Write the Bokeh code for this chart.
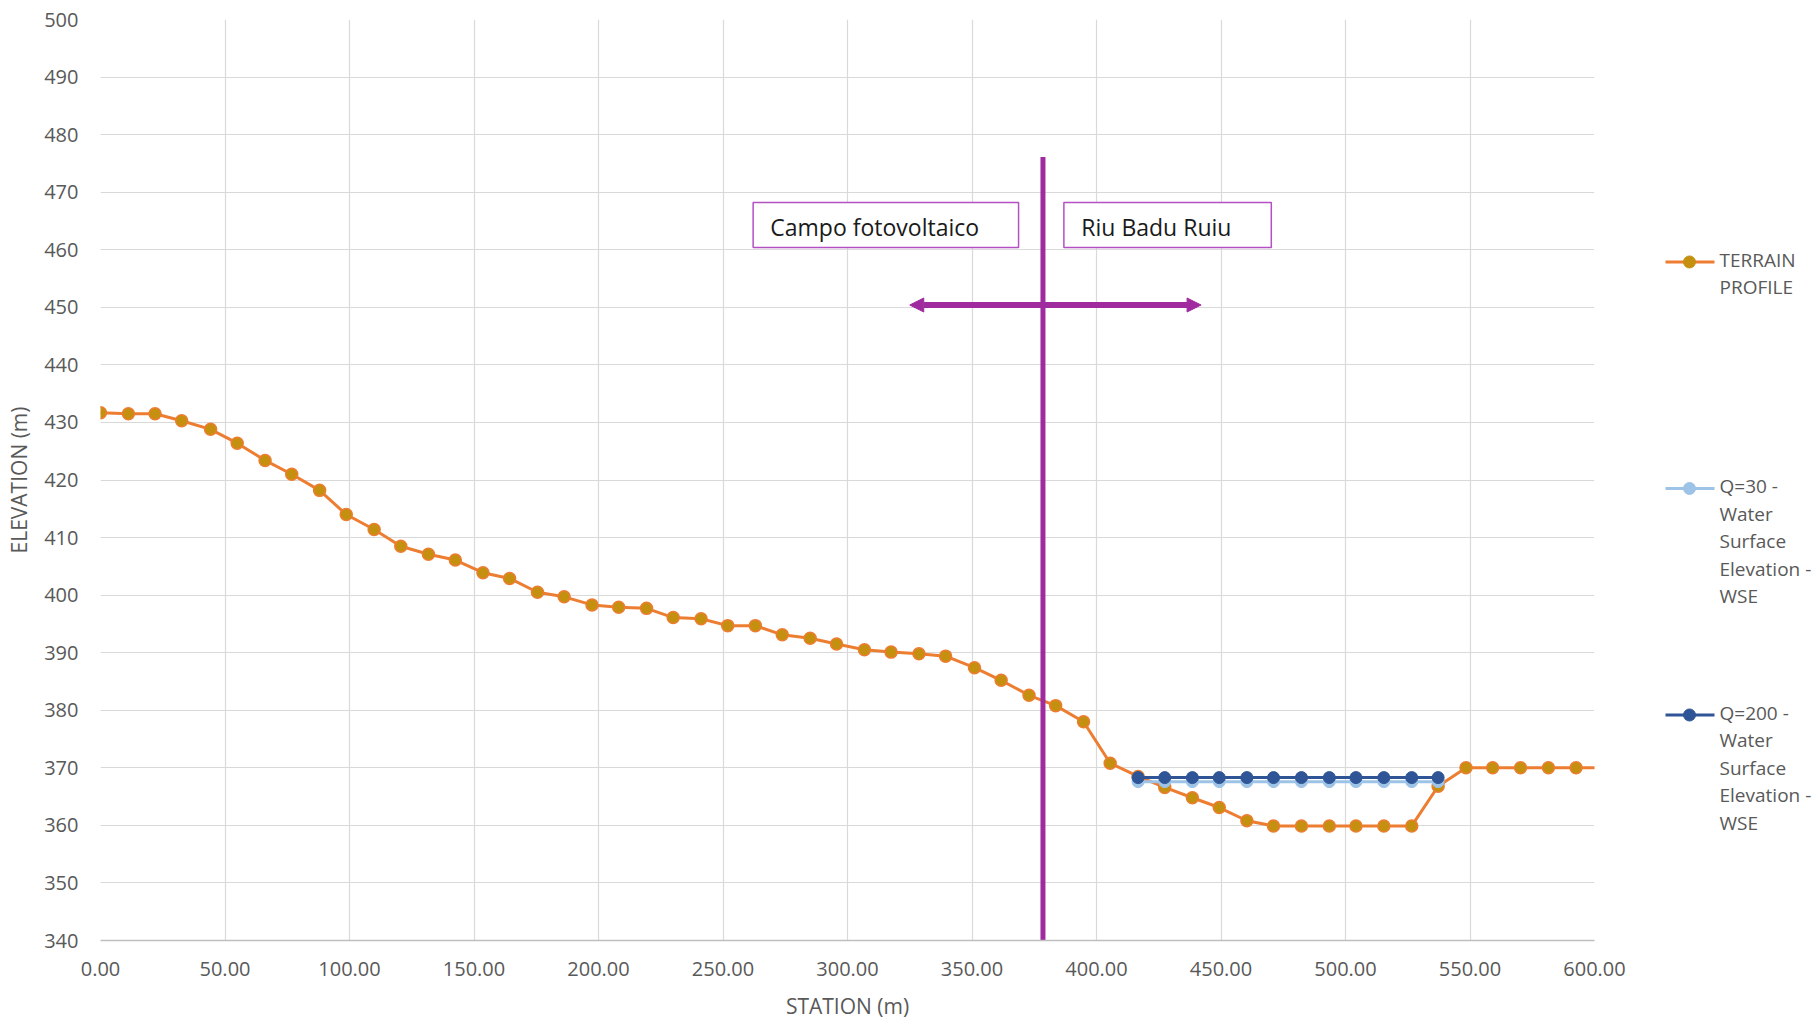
from bokeh.plotting import figure
from bokeh.models import Range1d, FixedTicker, NumeralTickFormatter, Arrow, NormalHead
from bokeh.layouts import row
from bokeh.embed import file_html
from bokeh.resources import INLINE
from bokeh.core.properties import value

# ---------------- data ----------------
station = [0.0, 11.2, 21.9, 32.6, 44.2, 54.9, 66.1, 76.8, 88.0, 98.7, 109.9, 120.6,
           131.7, 142.5, 153.6, 164.3, 175.5, 186.2, 197.4, 208.1, 219.3, 230.0, 241.2,
           251.9, 263.0, 273.8, 285.0, 295.6, 306.8, 317.5, 328.7, 339.4, 351.0, 361.7,
           372.9, 383.6, 394.8, 405.5, 416.7, 427.4, 438.5, 449.3, 460.4, 471.1, 482.3,
           493.5, 504.2, 515.4, 526.6, 537.2, 548.4, 559.1, 570.3, 581.5, 592.6, 603.8]
terrain = [431.7, 431.5, 431.5, 430.3, 428.8, 426.4, 423.4, 421.0, 418.2, 414.0, 411.4,
           408.5, 407.1, 406.1, 403.9, 402.9, 400.5, 399.7, 398.3, 397.9, 397.7, 396.1,
           395.9, 394.7, 394.7, 393.1, 392.5, 391.5, 390.5, 390.1, 389.8, 389.4, 387.4,
           385.2, 382.6, 380.8, 378.0, 370.8, 368.5, 366.6, 364.8, 363.1, 360.8, 359.9,
           359.9, 359.9, 359.9, 359.9, 359.9, 366.8, 370.0, 370.0, 370.0, 370.0, 370.0, 370.0]
wse_station = [416.7, 427.4, 438.5, 449.3, 460.4, 471.1, 482.3, 493.5, 504.2, 515.4, 526.6, 537.2]
wse_q30 = [367.6, 367.6, 367.6, 367.6, 367.6, 367.6, 367.6, 367.6, 367.6, 367.6, 367.6, 367.6]
wse_q200 = [368.3, 368.3, 368.3, 368.3, 368.3, 368.3, 368.3, 368.3, 368.3, 368.3, 368.3, 368.3]

x_ticks = [0, 50, 100, 150, 200, 250, 300, 350, 400, 450, 500, 550, 600]
y_ticks = [340, 350, 360, 370, 380, 390, 400, 410, 420, 430, 440, 450, 460, 470, 480, 490, 500]

legend_labels = [["TERRAIN", "PROFILE"],
                 ["Q=30 -", "Water", "Surface", "Elevation -", "WSE"],
                 ["Q=200 -", "Water", "Surface", "Elevation -", "WSE"]]

box_texts = ["Campo fotovoltaico", "Riu Badu Ruiu"]

# ---------------- styling ----------------
FONT = "Open Sans"
GREY = "#595959"
GRID = "#D9D9D9"
ORANGE = "#ED7D31"
MARK = "#C5900F"
LIGHT = "#9DC3E6"
DARK = "#2F5597"
PURPLE = "#A02B9F"

H = 1022
TOP = 19
BOTTOM = 80

p = figure(width=1630, height=H, x_range=Range1d(0, 600), y_range=Range1d(340, 500),
           output_backend="svg", toolbar_location=None,
           min_border_left=100, min_border_right=36, min_border_top=TOP, min_border_bottom=BOTTOM)
p.outline_line_color = None
p.background_fill_color = "white"

p.xaxis.ticker = FixedTicker(ticks=x_ticks)
p.yaxis.ticker = FixedTicker(ticks=y_ticks)
p.xaxis.formatter = NumeralTickFormatter(format="0.00")
for ax in (p.xaxis, p.yaxis):
    ax.major_tick_out = 0
    ax.major_tick_in = 0
    ax.minor_tick_out = 0
    ax.minor_tick_in = 0
    ax.major_label_text_font = FONT
    ax.major_label_text_font_size = "20px"
    ax.major_label_text_color = GREY
    ax.axis_label_text_font = FONT
    ax.axis_label_text_font_size = "21px"
    ax.axis_label_text_color = GREY
    ax.axis_label_text_font_style = "normal"
p.xaxis.axis_line_color = "#BFBFBF"
p.xaxis.axis_line_width = 1.5
p.yaxis.axis_line_color = None
p.xaxis.axis_label = "STATION (m)"
p.yaxis.axis_label = "ELEVATION (m)"
p.xaxis.major_label_standoff = 21
p.xaxis.axis_label_standoff = 13
p.yaxis.major_label_standoff = 22
p.yaxis.axis_label_standoff = 8

p.xgrid.grid_line_color = GRID
p.ygrid.grid_line_color = GRID
p.xgrid.grid_line_width = 1.2
p.ygrid.grid_line_width = 1.2

# series
p.line(station, terrain, line_color=ORANGE, line_width=3)
p.scatter(station, terrain, size=12, fill_color=MARK, line_color=ORANGE, line_width=1.5)
p.line(wse_station, wse_q30, line_color=LIGHT, line_width=3)
p.scatter(wse_station, wse_q30, size=12, fill_color=LIGHT, line_color=LIGHT)
p.line(wse_station, wse_q200, line_color=DARK, line_width=3)
p.scatter(wse_station, wse_q200, size=12, fill_color=DARK, line_color=DARK)

# annotations (limit line, arrows, label boxes)
limit_x = 378.5
limit_top = 476.1
arrow_y = 450.4
arrow_left = 325.0
arrow_right = 442.0
p.segment(x0=[limit_x], y0=[340], x1=[limit_x], y1=[limit_top], line_color=PURPLE, line_width=5)
for xe in (arrow_left, arrow_right):
    p.add_layout(Arrow(end=NormalHead(size=14, fill_color=PURPLE, line_color=PURPLE),
                       x_start=limit_x, y_start=arrow_y, x_end=xe, y_end=arrow_y,
                       line_color=PURPLE, line_width=6))

box_left = [262.1, 386.9]
box_right = [368.7, 470.2]
box_bottom = [460.4, 460.4]
box_top = [468.2, 468.2]
text_x = [269.0, 393.9]
text_y = [463.9, 463.9]
p.quad(left=box_left, right=box_right, bottom=box_bottom, top=box_top,
       fill_color="white", line_color="#B44FC4", line_width=1.5)
p.text(x=text_x, y=text_y, text=box_texts, text_baseline="middle", text_align="left",
       text_font=value(FONT), text_font_size="23px", text_color="#1A1A1A")

# ---------------- legend panel (y in page pixels) ----------------
lf = figure(width=186, height=H, x_range=Range1d(0, 186), y_range=Range1d(H - BOTTOM, TOP),
            output_backend="svg", toolbar_location=None,
            min_border_left=0, min_border_right=0, min_border_top=TOP, min_border_bottom=BOTTOM)
lf.axis.visible = False
lf.grid.visible = False
lf.outline_line_color = None

item_y = [262, 489, 716]
line_gap = 27.5
item_colors = [(ORANGE, MARK), (LIGHT, LIGHT), (DARK, DARK)]
for yy, (lc, mc), lines in zip(item_y, item_colors, legend_labels):
    lf.segment(x0=[35], y0=[yy], x1=[84], y1=[yy], line_color=lc, line_width=3)
    lf.scatter([59], [yy], size=12, fill_color=mc, line_color=mc)
    ys = [yy - 2 + k * line_gap for k in range(len(lines))]
    lf.text(x=[89] * len(lines), y=ys, text=lines, text_baseline="middle",
            text_font=value(FONT), text_font_size="19px", text_color=GREY)

layout = row(p, lf)
open("out.html", "w").write(file_html(layout, INLINE))
